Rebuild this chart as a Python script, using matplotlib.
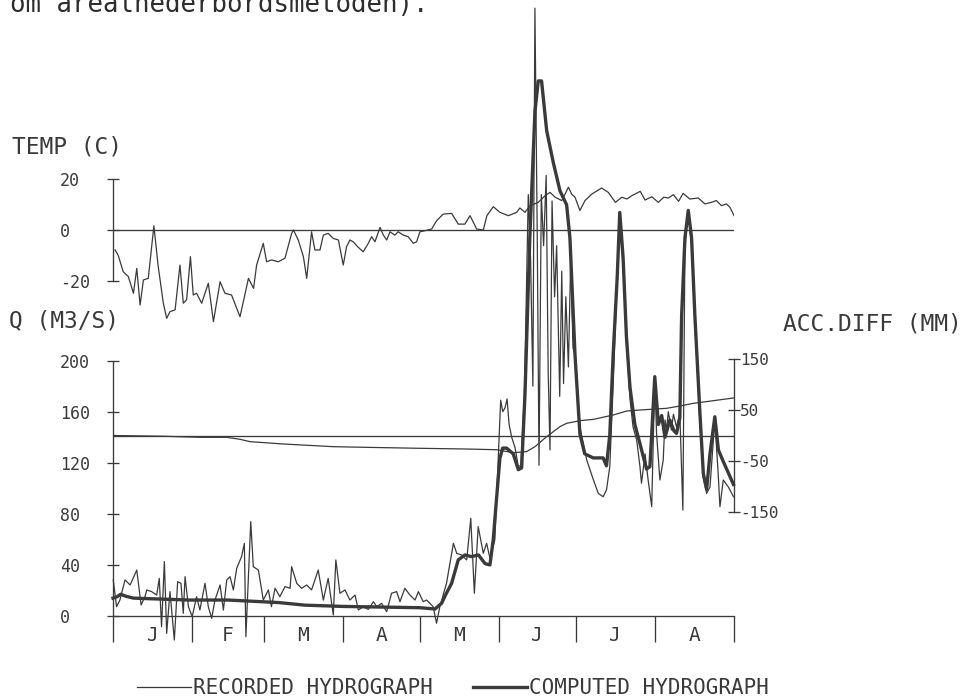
import matplotlib
matplotlib.use("Agg")
import matplotlib.pyplot as plt

plt.rcParams["font.family"] = ["DejaVu Sans Mono", "DejaVu Sans"]
plt.rcParams["axes.unicode_minus"] = False

INK = "#3a3a3a"

# ============================================
#  data (day 0 = 1 Jan, daily series Jan-Aug)
# ============================================
month_edges = [0, 31, 59, 90, 120, 151, 181, 212, 243]
month_labels = ["J", "F", "M", "A", "M", "J", "J", "A"]

temp_day = [0.8, 2, 4, 6, 8, 9.3, 10.6, 11.9, 13.8, 16, 17.7, 19.7, 21, 22.3, 24.3,
            26.2, 27.5, 28.8, 30.3, 31.4, 32.7, 34.7, 37.3, 39.3, 41.9, 43.8, 46.4,
            49.7, 53, 55, 56.2, 58.8, 60.1, 62, 64.7, 67.3, 69.9, 70.6, 72.5, 74.5,
            75.8, 77.7, 79, 81, 82.3, 84.2, 86.2, 88.2, 90.1, 91.4, 92.7, 94, 95.7,
            97.9, 99.9, 101.2, 102.5, 104.5, 105.8, 107.1, 108.4, 110.3, 111.6, 113.6,
            115.5, 117.5, 118.8, 120.1, 122, 124.7, 126.6, 129.2, 132.5, 135.1, 137.7,
            139.7, 142.3, 144.9, 146.3, 148.8, 151.4, 154.7, 158, 159.2, 161.2, 163.2,
            166.4, 169.1, 171, 173, 175.6, 178.2, 179.5, 180.8, 182.7, 184.7, 187.3,
            191.2, 193.8, 196.6, 199.1, 201.1, 203, 206.3, 208.2, 210.8, 213.4, 215.5,
            217.3, 219.3, 221.3, 223.1, 225.7, 229, 231.6, 234.2, 236.1, 238.1, 240,
            241.4, 243]
temp_c = [-7.8, -9.8, -16.3, -18.2, -24.7, -15, -29.3, -19.5, -18.9, 1.6, -14.3, -28.6,
          -34.5, -31.9, -31.2, -13.7, -28.6, -27.3, -10.4, -25.4, -24.7, -28.6, -20.8,
          -35.8, -20.2, -24.7, -25.4, -33.9, -18.9, -22.8, -13.7, -5.2, -12.4, -11.7,
          -12.4, -11, -1.3, 0, -3.9, -10.4, -18.9, -0.7, -7.8, -7.8, -2, -1.3, -3.3,
          -3.9, -13.7, -6.5, -3.9, -4.6, -6.5, -8.5, -5.2, -2.6, -4.6, 1, -2, -3.9,
          -0.7, -2, -0.7, -2, -2.6, -5.2, -4.6, -0.7, -0.3, 0.4, 3.6, 6.2, 6.5, 2.3,
          2.3, 5.6, 0.4, 0, 5.6, 9.1, 6.9, 5.6, 6.9, 8.6, 6.9, 9.5, 10.8, 13.4, 14.7,
          12.8, 11.5, 16.7, 14, 12.8, 7.6, 11.5, 14, 16.4, 14.7, 10.8, 12.8, 12.1,
          13.4, 15.1, 11.7, 13, 10.8, 12.8, 12.5, 13.8, 11.2, 14.3, 12.1, 12.5, 10.2,
          10.8, 11.5, 9.5, 10.2, 8.9, 5.6]

rec_day = [0.1, 1.4, 2.7, 4.7, 6.7, 9.3, 11, 12.5, 13.2, 15.1, 17.1, 18.1, 19, 20.1,
           21, 22.3, 24, 25.3, 26.6, 27.5, 28.2, 29.5, 31, 32.7, 34, 36, 37.3, 38.6,
           39.9, 41.9, 43.2, 44.5, 45.8, 47.1, 48.4, 50.3, 51.4, 52, 53.9, 54.9, 56.9,
           58.8, 60.8, 62, 63.4, 65.3, 67.3, 69.3, 69.9, 71.9, 73.8, 75.8, 77.7, 80.3,
           82.3, 84.2, 86.2, 87.2, 88.8, 90.8, 92.7, 94.7, 96, 97.9, 99.9, 101.9,
           103.2, 105.1, 107.1, 109, 111, 112.3, 114.2, 116.2, 118.2, 119.5, 121.4,
           122.7, 125.3, 126.6, 127.9, 130.5, 133.2, 134.5, 136.4, 138.4, 140, 141.4,
           142.9, 144.9, 146.2, 147.5, 149.4, 151.7, 152.5, 153.4, 154.2, 155, 156,
           157.3, 158.6, 159.6, 161, 162.5, 163.4, 164.3, 165.1, 166, 166.7, 167.6,
           168.5, 169.5, 170.3, 171, 171.8, 172.8, 173.6, 174.8, 175.6, 176.3, 177.2,
           178.2, 179.1, 180, 180.8, 182.7, 185.4, 188, 189.9, 191.8, 193.1, 194.4,
           195.7, 197.3, 198.3, 199.6, 200.9, 202.3, 203.5, 204.9, 206.2, 206.8, 208.2,
           209.4, 210.8, 212, 212.7, 214, 215.3, 216, 216.6, 217.3, 218.5, 219.3, 220.5,
           221.8, 223, 223.8, 225.1, 226.4, 227.7, 229.7, 231, 232.3, 233.6, 235.5,
           236.8, 237.5, 238.8, 240.8, 242.8]
rec_q = [28.2, 7.3, 12.5, 28.2, 24.3, 36, 8.6, 15.1, 20.4, 19.1, 16.4, 29.5, -8.4, 42.6,
         -13.6, 19.1, -18.8, 26.9, 25.6, 2.1, 30.8, 7.3, -0.5, 15.1, 4.7, 25.6, 7.3, -1.8,
         12.5, 24.3, 4.7, 28.2, 30.8, 20.4, 37.3, 46.5, 56.9, -16.2, 73.9, 38.6, 36,
         12.5, 20.4, 7.3, 21.7, 15.1, 23, 21.7, 38.6, 25.6, 21.7, 24.3, 20.4, 36, 12.5,
         29.5, 0.8, 43.9, 17.8, 20.4, 12.5, 16.4, 4.7, 7.3, 5.2, 11.2, 7.3, 9.9, 3.4,
         17.8, 19.1, 11.2, 21.7, 16.4, 12.5, 19.1, 11.2, 12.5, 7.3, -5.7, 7.3, 25.6,
         56.9, 49.1, 47.8, 43.9, 76.5, 17.8, 70, 49.1, 56.9, 45.2, 59.5, 169, 160, 163,
         170, 150, 140, 132, 117, 118, 175, 330, 280, 180, 476, 300, 118, 330, 290,
         345, 190, 130, 325, 250, 290, 172, 270, 182, 250, 195, 280, 210, 204, 148,
         122, 106.5, 96, 93.4, 98.7, 117, 180, 265, 312, 275, 215, 170, 148, 138, 117,
         104, 127, 106.5, 85.6, 187, 143, 106.5, 122, 153.5, 145.6, 160, 145.6, 158,
         148, 158.7, 83, 290, 316, 290, 230, 150, 108, 96, 101, 153.5, 111.7, 85.6,
         106.5, 101, 93.4]

comp_day = [0, 1.5, 3, 5, 8, 15, 30, 45, 55, 65, 75, 90, 105, 120, 126, 128.6, 130,
            132.5, 135.1, 137.7, 140.3, 143, 145.6, 147.5, 148.8, 149.8, 151.4, 152.5,
            154, 156.6, 158.6, 159.9, 161.2, 163.1, 165.1, 166.4, 167.7, 169.7, 172.3,
            174.9, 177.5, 178.8, 180.8, 182.7, 184.6, 187.9, 191.8, 193.1, 194.4, 195.7,
            197.3, 198.3, 199.6, 200.9, 202.3, 204.2, 206.2, 207.5, 208.8, 210.1, 211,
            212, 213.4, 214.7, 216, 217.9, 219.5, 220.5, 221.8, 222.5, 223.8, 225.1,
            226.4, 227.7, 229.7, 231, 232.3, 233.6, 235.5, 236.9, 238.8, 240.8, 242.8]
comp_q = [14, 15, 17, 15.5, 14, 13.5, 12.5, 12.5, 11.5, 10.5, 8.5, 7.5, 7, 6.5, 5.5, 10,
          16, 25.6, 43.9, 47.8, 46.5, 47.8, 41, 40, 60, 85, 123.8, 131.5, 131.5, 127,
          114.6, 116, 173, 296, 394.7, 419, 419, 380, 355, 333, 322, 296, 204, 142.5,
          127, 123.8, 123.8, 117.6, 142, 204, 265.5, 316, 280.7, 219, 179, 150, 135,
          124.8, 115, 117, 150, 187.4, 150, 157, 140, 153.5, 145, 143, 155, 234.7, 296,
          317.6, 296, 234.7, 157.6, 111.5, 99.2, 127, 156, 130, 121, 112, 103]

acc_day = [0, 20, 34, 44.5, 49.7, 53.6, 66.6, 86.2, 99.2, 120.1, 138.4, 150.1, 156.6,
           161.8, 165.1, 169.7, 174.9, 177.5, 182.7, 188, 195.8, 201, 206.2, 216.6,
           221.8, 227, 234.9, 243]
acc_mm = [0, -1.5, -3.6, -3.6, -7.5, -12.1, -16.7, -22, -23.3, -25.2, -26.6, -28,
          -33.8, -31.8, -22, -2.3, 17.4, 24, 29.2, 31.8, 40.4, 48.2, 50.2, 53.5, 58,
          63.3, 68.5, 74]

# ============================================
#  page geometry (pixels, 976 x 700 at 100 dpi)
# ============================================
W, H = 976, 700
X0, X1 = 113, 734           # x of 1 Jan and 1 Sep
Q_ZERO, Q_SCALE = 616, 1.277  # px of Q=0, px per m3/s
T_ZERO, T_SCALE = 230, 2.56
A_ZERO, A_SCALE = 435.5, 0.508

fig = plt.figure(figsize=(W / 100, H / 100), dpi=100)
left, width = X0 / W, (X1 - X0) / W

# discharge panel: bottom edge on Q=0, runs up to the page top
ax_q = fig.add_axes([left, (H - Q_ZERO) / H, width, Q_ZERO / H])
ax_q.set_xlim(0, 243)
ax_q.set_ylim(0, Q_ZERO / Q_SCALE)

# temperature and accumulated difference share the x range
ax_t = fig.add_axes([left, 0, width, 1])
ax_t.set_xlim(0, 243)
ax_t.set_ylim((T_ZERO - H) / T_SCALE, T_ZERO / T_SCALE)

ax_a = fig.add_axes([left, 0, width, 1])
ax_a.set_xlim(0, 243)
ax_a.set_ylim((A_ZERO - H) / A_SCALE, A_ZERO / A_SCALE)

for ax in (ax_q, ax_t, ax_a):
    ax.patch.set_visible(False)
    for s in ax.spines.values():
        s.set_visible(False)
        s.set_color(INK)
        s.set_linewidth(0.95)

tick_kw = dict(direction="inout", length=8, width=0.95, color=INK,
               labelcolor=INK, labelsize=12)

# --- temperature ---
ax_t.spines["left"].set_visible(True)
ax_t.spines["left"].set_bounds(-20, 20)
ax_t.set_xticks([])
ax_t.set_yticks([-20, 0, 20])
ax_t.tick_params(axis="y", pad=34.2, **tick_kw)
for lb in ax_t.get_yticklabels():
    lb.set_horizontalalignment("left")
ax_t.axhline(0, color=INK, lw=0.95)
ax_t.plot(temp_day, temp_c, color=INK, lw=0.9)

# --- discharge ---
ax_q.spines["left"].set_visible(True)
ax_q.spines["left"].set_bounds(0, 200)
ax_q.spines["bottom"].set_visible(True)
ax_q.set_yticks([0, 40, 80, 120, 160, 200])
ax_q.tick_params(axis="y", pad=34.2, **tick_kw)
for lb in ax_q.get_yticklabels():
    lb.set_horizontalalignment("left")

mid_month = [(a + b) / 2 for a, b in zip(month_edges[:-1], month_edges[1:])]
ax_q.set_xticks(month_edges)
ax_q.set_xticklabels([])
ax_q.set_xticks(mid_month, minor=True)
ax_q.set_xticklabels(month_labels, minor=True)
ax_q.tick_params(axis="x", which="major", direction="out", length=18.5,
                 width=0.95, color=INK)
ax_q.tick_params(axis="x", which="minor", length=0, pad=7.5,
                 labelsize=14, labelcolor=INK)

l_rec, = ax_q.plot(rec_day, rec_q, color=INK, lw=0.9, clip_on=False,
                   label="RECORDED HYDROGRAPH")
l_comp, = ax_q.plot(comp_day, comp_q, color=INK, lw=2.4, clip_on=False,
                    label="COMPUTED HYDROGRAPH")

# --- accumulated difference ---
ax_a.spines["right"].set_visible(True)
ax_a.spines["right"].set_bounds(-150, 150)
ax_a.set_xticks([])
ax_a.yaxis.tick_right()
ax_a.set_yticks([-150, -50, 50, 150])
ax_a.tick_params(axis="y", pad=0.5, **{**tick_kw, "labelsize": 11.5})
ax_a.axhline(0, color=INK, lw=0.95)
ax_a.plot(acc_day, acc_mm, color=INK, lw=0.9)

# --- texts ---
fig.text(10 / W, 1 - 11.5 / H, "om arealnederbördsmetoden).", fontsize=18.5,
         color="#2e2e2e", ha="left", va="baseline")
fig.text(12 / W, 1 - 147 / H, "TEMP (C)", fontsize=16.5, color=INK,
         ha="left", va="center")
fig.text(9 / W, 1 - 321 / H, "Q (M3/S)", fontsize=16.5, color=INK,
         ha="left", va="center")
fig.text(783 / W, 1 - 324 / H, "ACC.DIFF (MM)", fontsize=16.5, color=INK,
         ha="left", va="center")

fig.legend(handles=[l_rec, l_comp], loc="center left",
           bbox_to_anchor=(137 / W, 1 - 688 / H), ncol=2, frameon=False,
           handlelength=2.6, handletextpad=0.1, columnspacing=1.9,
           borderpad=0, borderaxespad=0, fontsize=15, labelcolor=INK)

fig.savefig("out.png", dpi=100, facecolor="white")
